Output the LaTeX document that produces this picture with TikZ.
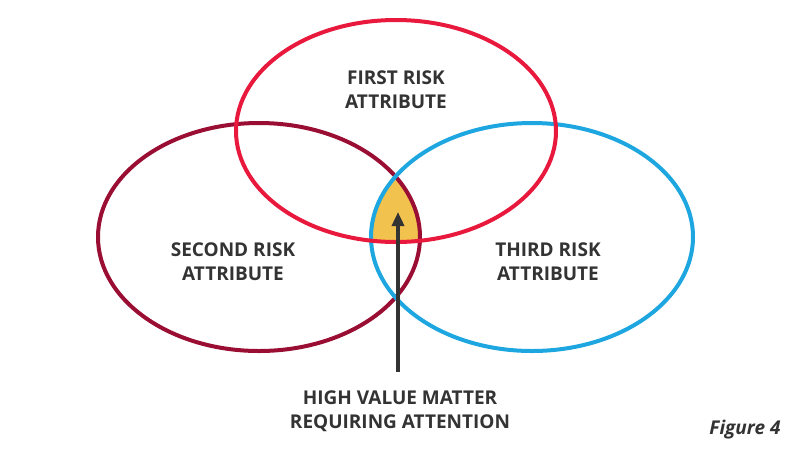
\documentclass[tikz,border=0pt]{standalone}
\usepackage{fontspec}
\setmainfont{Open Sans}
\usetikzlibrary{arrows.meta}
\definecolor{cred}{HTML}{E8193C}
\definecolor{cdark}{HTML}{9A0E33}
\definecolor{cblue}{HTML}{1DA6DF}
\definecolor{cyel}{HTML}{F2C24F}
\definecolor{ctext}{HTML}{333333}
\tikzset{ring/.style={line width=4pt},
lbl/.style={font=\fontsize{19}{24}\selectfont\bfseries, text=ctext, align=center}}
\begin{document}
\begin{tikzpicture}[x=1pt,y=-1pt]
\useasboundingbox (0,0) rectangle (800,451);
\begin{scope}
\clip (396,131) ellipse [x radius=160, y radius=111];
\clip (259,237) ellipse [x radius=161, y radius=114];
\fill[cyel] (532,237) ellipse [x radius=161, y radius=114];
\end{scope}
\draw[ring,cdark] (259,237) ellipse [x radius=161, y radius=114];
\draw[ring,cblue] (532,237) ellipse [x radius=161, y radius=114];
\draw[ring,cred] (396,131) ellipse [x radius=160, y radius=111];
\node[lbl] (first) at (396,90) {FIRST RISK\\ATTRIBUTE};
\node[lbl] (second) at (233,262) {SECOND RISK\\ATTRIBUTE};
\node[lbl] (third) at (548,262) {THIRD RISK\\ATTRIBUTE};
\node[lbl] (high) at (400,411) {HIGH VALUE MATTER\\REQUIRING ATTENTION};
\coordinate (tip) at (398,212);
\draw[ctext,line width=3.5pt,-{Triangle[length=14pt,width=12pt]}] (398,372) -- (tip);
\node[font=\fontsize{19}{24}\selectfont\bfseries\itshape, text=ctext] (fig) at (745,430) {Figure 4};
\end{tikzpicture}
\end{document}
